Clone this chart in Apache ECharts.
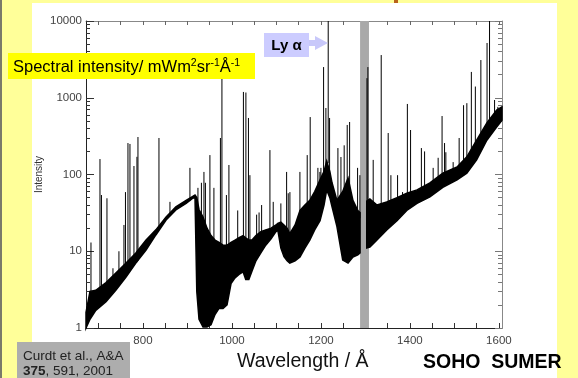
<!DOCTYPE html>
<html lang="en">
<head>
<meta charset="utf-8">
<script src="https://cdn.jsdelivr.net/npm/echarts@6/dist/echarts.min.js"></script>
<style>
  html, body { margin: 0; padding: 0; background: #ffff99; }
  #chart { width: 578px; height: 378px; }
</style>
</head>
<body>
<div id="chart"></div>
<script>
// SUMER disk spectrum (Angstrom, intensity)
// noise band of the continuum: lower / upper edge, null = data gap
const specWave = [672, 681, 694, 717, 739, 762, 784, 807, 829, 852, 874, 897, 912, 917,
  921, 926, 935, 944, 953, 962, 971, 980, 989, 998, 1007, 1016, 1025, 1031, 1038, 1045, 1054, 1065,
  1076, 1088, 1099, 1103, 1110, 1117, 1124, 1130, 1142, 1153, 1164, 1175, 1186, 1198, 1207,
  1213, 1220, 1225, 1236, 1249, 1261, 1272, 1283, 1288, null,
  1303, 1310, 1326, 1348, 1371, 1393, 1416, 1445, 1474, 1506, 1528, 1550, 1573, 1595, 1607];
const specLow = [1.0, 1.3, 1.7, 2.2, 3.1, 4.6, 7.0, 10.4, 16.3, 25.5, 34.5, 42, 49, 50,
  3, 1.3, 1.03, 1.03, 1.1, 1.5, 1.8, 1.8, 2.0, 3.8, 4.5, 5.0, 5.4, 4.3, 4.3, 5.5, 7.5, 9.5,
  12, 14.5, 18, 19, 11, 8.5, 7.5, 7, 7.5, 8.4, 11, 14, 19, 25, 40,
  63, 50, 38, 21, 7.7, 7, 8.4, 9, 9.5, null,
  11, 11.3, 14, 19, 25, 34, 42, 51, 68, 85, 104, 155, 280, 415, 510];
const specHigh = [1.6, 3.0, 3.1, 3.9, 5.2, 7.0, 9.5, 14, 19, 28, 38, 46, 52, 54,
  50, 35, 28, 20, 16, 14, 13, 12, 12, 13, 14, 15, 16, 15, 14, 14, 16, 18,
  19, 20, 22, 23, 24, 22, 20, 17, 22, 34, 40, 46, 60, 85, 110,
  150, 110, 78, 46, 60, 90, 46, 34, 32, null,
  45, 48, 40, 44, 50, 57, 63, 78, 104, 125, 170, 280, 470, 690, 760];

// emission lines: wavelength, foot (inside the band), peak
const lineWave = [683.2, 703.4, 706.7, 719.1, 732.6, 746.0, 757.3, 760.7, 766.3, 770.8, 779.8, 786.5, 788.8,
  836.0, 860.7, 905.6, 923.6, 931.4, 937.1, 940.4, 950.5, 959.5, 974.1, 977.5, 987.6, 993.2, 1013.0,
  1025.8, 1031.4, 1037.1, 1040.4, 1055.5, 1061.0, 1066.7, 1085.4, 1092.8, 1110.0, 1122.9, 1126.5, 1130.3,
  1152.8, 1169.2, 1175.9, 1193.2, 1197.7, 1200.0, 1206.0, 1211.2, 1216.4, 1219.5, 1238.2, 1245.0,
  1252.3, 1259.1, 1264.5, 1282.4, 1287.6, 1303.5, 1305.6, 1317.5, 1335.5, 1351.2, 1357.3, 1372.3,
  1383.5, 1394.3, 1401.5, 1425.8, 1433.0, 1452.3, 1463.5, 1472.3, 1477.9, 1480.8, 1497.2, 1510.7,
  1520.6, 1528.0, 1538.1, 1547.1, 1559.5, 1573.4, 1579.0, 1590.3, 1597.7];
const lineBase = [2.7, 3.0, 3.0, 3.3, 3.7, 4.5, 5, 5.2, 5.7, 6, 6.8, 7.2, 7.5,
  19, 30, 45, 40, 25, 20, 17, 14, 12, 10, 10, 10, 10, 12,
  14, 14, 13, 13, 14, 15, 16, 18, 20, 20, 18, 16, 15,
  30, 40, 44, 70, 80, 85, 100, 130, 140, 100, 40, 40,
  35, 34, 34, 29, 27, 30, 30, 35, 38, 40, 40, 44,
  48, 50, 52, 57, 58, 68, 72, 75, 80, 80, 95, 110,
  130, 145, 180, 210, 300, 380, 450, 580, 680];
const linePeak = [13, 159, 54, 49, 6, 10, 22, 59, 257, 250, 129, 170, 308,
  299, 44, 122, 67, 78, 108, 78, 179, 67, 299, 1810, 54, 133, 34,
  1190, 1170, 545, 98, 30, 32, 40, 208, 44, 42, 108, 57, 59,
  108, 179, 560, 122, 108, 122, 2510, 735, 10000, 545, 221, 169,
  240, 442, 483, 122, 98, 1800, 2510, 155, 3600, 347, 98, 98,
  59, 830, 380, 221, 200, 122, 165, 578, 257, 195, 145, 299,
  800, 850, 2170, 1400, 3100, 5170, 10000, 935, 760];

// grey band (attenuator region)
const bandRange = [1288, 1308];

const xMin = 672, xMax = 1607, yMin = 1, yMax = 10000;
const xTicks = [700, 750, 800, 850, 900, 950, 1000, 1050, 1100, 1150, 1200, 1250, 1300, 1350, 1400, 1450, 1500, 1550, 1600];
const xLabels = [800, 1000, 1200, 1400, 1600];
const yMajor = [1, 10, 100, 1000, 10000];
const yMinor = [2, 3, 4, 5, 6, 7, 8, 9, 20, 30, 40, 50, 60, 70, 80, 90,
  200, 300, 400, 500, 600, 700, 800, 900, 2000, 3000, 4000, 5000, 6000, 7000, 8000, 9000];

const FONT = 'Liberation Sans';
const plain = function (v) { return String(v); };

function yAxisDef(pos, values, len, labels, line) {
  return {
    type: 'log', logBase: 10, min: yMin, max: yMax, position: pos,
    axisLine: { show: line, lineStyle: { color: pos === 'left' ? '#222' : '#888', width: 1 } },
    axisTick: { show: true, inside: true, length: len, customValues: values,
      lineStyle: { color: pos === 'left' ? '#333' : '#777', width: 1 } },
    axisLabel: { show: labels, customValues: values, formatter: plain, margin: 4,
      fontSize: 11.5, color: '#444', fontFamily: FONT },
    splitLine: { show: false }, minorTick: { show: false }
  };
}

const chart = echarts.init(document.getElementById('chart'));
chart.setOption({
  animation: false,
  backgroundColor: '#ffff99',
  textStyle: { fontFamily: FONT },
  grid: { left: 86, top: 21, right: 76, bottom: 50, outerBoundsMode: 'none' },
  xAxis: [{
    type: 'value', min: xMin, max: xMax, position: 'bottom',
    axisLine: { lineStyle: { color: '#222', width: 1 } },
    axisTick: { inside: true, length: 5, customValues: xTicks, lineStyle: { color: '#333' } },
    axisLabel: { customValues: xLabels, formatter: plain, margin: 7, fontSize: 11.5, color: '#444', fontFamily: FONT },
    splitLine: { show: false }
  }, {
    type: 'value', min: xMin, max: xMax, position: 'top',
    axisLine: { lineStyle: { color: '#888', width: 1 } },
    axisTick: { inside: true, length: 4, customValues: xTicks, lineStyle: { color: '#666' } },
    axisLabel: { show: false },
    splitLine: { show: false }
  }],
  yAxis: [
    Object.assign(yAxisDef('left', yMajor, 8, true, true), {
      name: 'Intensity', nameLocation: 'middle', nameGap: 42, nameMoveOverlap: false,
      nameTextStyle: { fontSize: 10, color: '#333', fontFamily: FONT }
    }),
    yAxisDef('left', yMinor, 4, false, false),
    yAxisDef('right', yMajor, 7, false, true),
    yAxisDef('right', yMinor, 4, false, false)
  ],
  series: [{
    type: 'custom', name: 'band', z: 1, silent: true,
    data: [[bandRange[0], bandRange[1]]],
    renderItem: function (params, api) {
      const a = api.coord([api.value(0), yMax]);
      const b = api.coord([api.value(1), yMin]);
      return { type: 'rect', shape: { x: a[0], y: a[1], width: b[0] - a[0], height: b[1] - a[1] },
        style: { fill: '#a9a9a9' } };
    }
  }, {
    type: 'custom', name: 'continuum', z: 2, silent: true,
    data: [[specWave[0], specLow[0]]],
    renderItem: function (params, api) {
      const children = [];
      let top = [], bot = [];
      const flush = function () {
        if (top.length) children.push({ type: 'polygon', shape: { points: top.concat(bot.reverse()) },
          style: { fill: '#000', stroke: '#000', lineWidth: 1.5 } });
        top = []; bot = [];
      };
      specWave.forEach(function (w, i) {
        if (w === null) { flush(); return; }
        top.push(api.coord([w, specHigh[i]]));
        bot.push(api.coord([w, specLow[i]]));
      });
      flush();
      return { type: 'group', children: children };
    }
  }, {
    type: 'custom', name: 'lines', z: 3, silent: true, clip: true,
    encode: { x: 0, y: [1, 2] },
    data: lineWave.map(function (w, i) { return [w, lineBase[i], linePeak[i]]; }),
    renderItem: function (params, api) {
      const b = api.coord([api.value(0), api.value(1)]);
      const t = api.coord([api.value(0), api.value(2)]);
      return { type: 'line', shape: { x1: b[0], y1: b[1], x2: t[0], y2: t[1] },
        style: { stroke: '#000', lineWidth: 1 } };
    }
  }],
  graphic: [
    { type: 'rect', z: -10, shape: { x: 32, y: 3, width: 525, height: 375 }, style: { fill: '#ffffff' } },
    { type: 'rect', z: -9, shape: { x: 0, y: 0, width: 2, height: 378 }, style: { fill: '#7a7a6a' } },
    { type: 'rect', z: -9, shape: { x: 394, y: 0, width: 4, height: 3 }, style: { fill: '#b8621b' } },
    { type: 'rect', z: 50, shape: { x: 8, y: 53, width: 247, height: 26 }, style: { fill: '#ffff00' } },
    { type: 'text', z: 51, x: 13, y: 67, style: {
      text: 'Spectral intensity/ mWm{s|2}sr{s|-1}Å{s|-1}',
      fontSize: 16.5, fontFamily: FONT, fill: '#000', verticalAlign: 'middle',
      rich: { s: { fontSize: 10.5, fontFamily: FONT, padding: [0, 0, 8, 0] } }
    } },
    { type: 'rect', z: 50, shape: { x: 264, y: 33, width: 45, height: 24 }, style: { fill: '#ccccff' } },
    { type: 'text', z: 51, x: 286.5, y: 45.5, style: {
      text: 'Ly α', fontSize: 15, fontWeight: 'bold', fontFamily: FONT, fill: '#000',
      align: 'center', verticalAlign: 'middle' } },
    { type: 'polygon', z: 50, shape: { points: [[309, 40], [315, 40], [315, 36], [328, 43], [315, 50], [315, 46], [309, 46]] },
      style: { fill: '#c8c8fa' } },
    { type: 'rect', z: 50, shape: { x: 17, y: 342, width: 113, height: 36 }, style: { fill: '#adadad' } },
    { type: 'text', z: 51, x: 23, y: 356, style: {
      text: 'Curdt et al., A&A', fontSize: 13.5, fontFamily: FONT, fill: '#222', verticalAlign: 'middle' } },
    { type: 'text', z: 51, x: 23, y: 371, style: {
      text: '{b|375}, 591, 2001', fontSize: 13.5, fontFamily: FONT, fill: '#222', verticalAlign: 'middle',
      rich: { b: { fontSize: 13.5, fontWeight: 'bold', fontFamily: FONT, fill: '#222' } } } },
    { type: 'text', z: 51, x: 237, y: 362, style: {
      text: 'Wavelength / Å', fontSize: 19.5, fontFamily: FONT, fill: '#111', verticalAlign: 'middle' } },
    { type: 'text', z: 51, x: 423, y: 363, style: {
      text: 'SOHO  SUMER', fontSize: 19.5, fontWeight: 'bold', fontFamily: FONT, fill: '#000', verticalAlign: 'middle' } }
  ]
});
</script>
</body>
</html>
